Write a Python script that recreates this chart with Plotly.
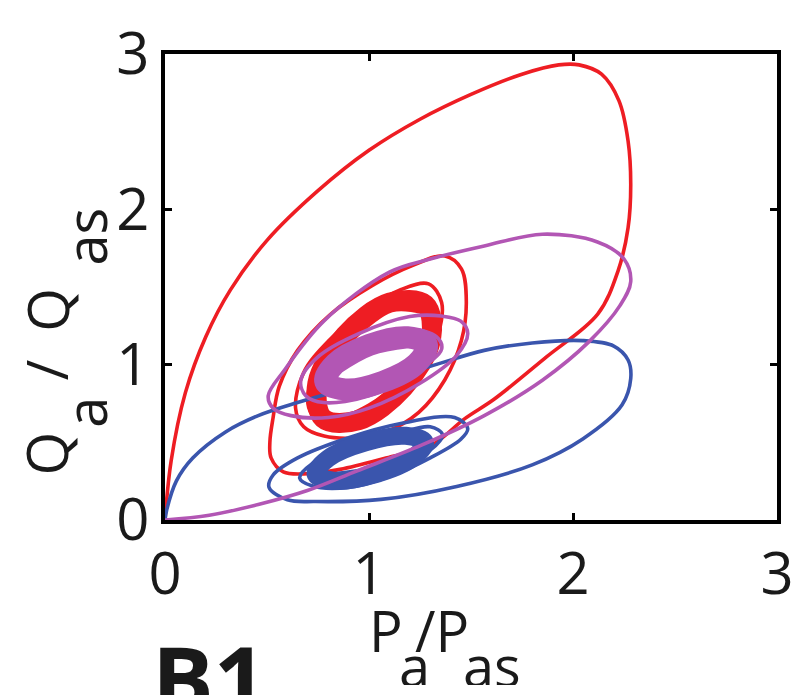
import plotly.graph_objects as go

# ---- data (P_a/P_as, Q_a/Q_as) ----
RED_X = [0.0, 0.03, 0.10, 0.20, 0.32, 0.50, 0.75, 1.0, 1.25, 1.50, 1.75, 1.93, 2.03,
         2.14, 2.225, 2.27, 2.283, 2.27, 2.221, 2.122, 1.87, 1.613, 1.468, 1.308, 1.083, 0.858,
         0.70, 0.58, 0.52, 0.514, 0.53, 0.56, 0.65, 0.81, 1.019, 1.212, 1.372, 1.453, 1.477, 1.453,
         1.372, 1.244, 1.083, 0.95, 0.78, 0.68, 0.64, 0.68, 0.80, 0.98, 1.15, 1.292, 1.356, 1.34,
         1.26, 1.12, 0.95, 0.80, 0.72, 0.70, 0.76, 0.90, 1.05, 1.212, 1.29, 1.26, 1.15, 1.0, 0.84,
         0.76, 0.75]
RED_Y = [0.0, 0.38, 0.82, 1.18, 1.48, 1.80, 2.12, 2.38, 2.58, 2.74, 2.87, 2.93, 2.93,
         2.87, 2.70, 2.44, 2.159, 1.882, 1.604, 1.327, 1.05, 0.777, 0.651, 0.483, 0.399, 0.326,
         0.298, 0.31, 0.40, 0.50, 0.66, 0.86, 1.092, 1.323, 1.512, 1.638, 1.70, 1.617, 1.407, 1.155,
         0.903, 0.693, 0.567, 0.53, 0.54, 0.60, 0.72, 0.95, 1.15, 1.35, 1.48, 1.52, 1.40, 1.20,
         0.98, 0.78, 0.65, 0.62, 0.68, 0.80, 1.0, 1.2, 1.35, 1.43, 1.30, 1.1, 0.9, 0.74, 0.66,
         0.72, 0.84]
RED_RING_X = [0.882, 1.101, 1.275, 1.304, 1.169, 0.950, 0.776, 0.747, 0.882, 1.101, 1.275]
RED_RING_Y = [1.188, 1.399, 1.388, 1.162, 0.853, 0.643, 0.653, 0.880, 1.188, 1.399, 1.388]

BLU_X = [0.0, 0.008, 0.056, 0.136, 0.297, 0.457, 0.65, 1.019, 1.30, 1.565, 1.80, 2.048, 2.20,
         2.27, 2.283, 2.24, 2.048, 1.80, 1.43, 1.059, 0.737, 0.60, 0.51, 0.53, 0.65, 0.90, 1.15,
         1.42, 1.484, 1.45, 1.30, 1.10, 0.90, 0.72, 0.66, 0.72, 0.90, 1.15, 1.30, 1.36, 1.30]
BLU_Y = [0.0, 0.063, 0.252, 0.399, 0.567, 0.672, 0.756, 0.89, 0.99, 1.092, 1.14, 1.155, 1.12,
         1.03, 0.91, 0.74, 0.522, 0.355, 0.216, 0.133, 0.119, 0.13, 0.21, 0.29, 0.40, 0.53, 0.62,
         0.66, 0.588, 0.52, 0.40, 0.28, 0.21, 0.22, 0.27, 0.36, 0.46, 0.56, 0.60, 0.55, 0.45]
BLU_RING_X = [1.212, 1.029, 0.833, 0.738, 0.800, 0.983, 1.180, 1.274, 1.212, 1.029, 0.833]
BLU_RING_Y = [0.397, 0.294, 0.252, 0.295, 0.397, 0.500, 0.542, 0.499, 0.397, 0.294, 0.252]

PUR_X = [0.0, 0.217, 0.457, 0.698, 0.939, 1.26, 1.565, 1.85, 2.08, 2.23, 2.283, 2.25, 2.12, 1.85,
         1.565, 1.30, 1.10, 0.778, 0.586, 0.506, 0.53, 0.618, 0.80, 1.00, 1.25, 1.43, 1.484, 1.45,
         1.356, 1.20, 0.95, 0.75, 0.666, 0.69, 0.778, 1.00, 1.22, 1.356, 1.33, 1.22]
PUR_Y = [0.0, 0.031, 0.10, 0.19, 0.315, 0.483, 0.672, 0.90, 1.15, 1.38, 1.535, 1.68, 1.79, 1.84,
         1.764, 1.68, 1.596, 1.28, 0.966, 0.80, 0.72, 0.672, 0.66, 0.72, 0.88, 1.06, 1.20, 1.28,
         1.313, 1.31, 1.20, 1.05, 0.90, 0.80, 0.756, 0.80, 0.95, 1.10, 1.18, 1.22]
PUR_RING_X = [1.188, 1.002, 0.836, 0.786, 0.882, 1.068, 1.234, 1.284, 1.188, 1.002, 0.836]
PUR_RING_Y = [1.176, 1.127, 1.008, 0.890, 0.841, 0.890, 1.008, 1.127, 1.176, 1.127, 1.008]

TICKS = [0, 1, 2, 3]
TICK_TEXT = ["0", "1", "2", "3"]

RED = "#EE1D23"
BLUE = "#3A55AD"
PURPLE = "#B256B4"

fig = go.Figure()

def add_traj(xs, ys, rx, ry, color, ring_w):
    fig.add_trace(go.Scatter(x=xs + rx[:1], y=ys + ry[:1], mode="lines",
                             line=dict(color=color, width=3.6, shape="spline", smoothing=1.0),
                             hoverinfo="skip", showlegend=False))
    fig.add_trace(go.Scatter(x=rx, y=ry, mode="lines",
                             line=dict(color=color, width=ring_w, shape="spline", smoothing=1.0),
                             hoverinfo="skip", showlegend=False))

add_traj(RED_X, RED_Y, RED_RING_X, RED_RING_Y, RED, 20)
add_traj(BLU_X, BLU_Y, BLU_RING_X, BLU_RING_Y, BLUE, 18)
add_traj(PUR_X, PUR_Y, PUR_RING_X, PUR_RING_Y, PURPLE, 22)

FONT = "Open Sans"
axis_common = dict(range=[0, 3], tickvals=TICKS, ticktext=TICK_TEXT, ticks="inside",
                   ticklen=7, tickwidth=3, tickcolor="black", showline=True, linewidth=4,
                   linecolor="black", mirror="ticks", showgrid=False, zeroline=False,
                   tickfont=dict(family=FONT, size=58, color="#1a1a1a"), fixedrange=True)

L, R, T, B = 165, 18, 44, 175
W, H = 806, 695
fig.update_layout(
    width=W, height=H, margin=dict(l=L, r=R, t=T, b=B),
    paper_bgcolor="white", plot_bgcolor="white",
    xaxis=axis_common, yaxis=axis_common,
)

pw, ph = W - L - R, H - T - B

def px(xp):
    return (xp - L) / pw

def py(yp):
    return (H - B - yp) / ph

def txt(s, xp, yp, size=56, angle=0, bold=False, h=None):
    kw = {}
    if h is not None:
        kw["height"] = h
    fig.add_annotation(text=("<b>%s</b>" % s) if bold else s, x=px(xp), y=py(yp),
                       xref="paper", yref="paper", showarrow=False, textangle=angle,
                       xanchor="center", yanchor="middle",
                       font=dict(family=FONT, size=size, color="#1a1a1a"), **kw)

# x-axis title pieces
txt("P", 390, 632)
txt("a", 419, 668, h=40)
txt("/P", 447, 632)
txt("as", 498, 668, h=40)
# y-axis title pieces (rotated)
txt("Q", 44, 452, angle=-90)
txt("a", 84, 410, angle=-90)
txt("/", 44, 367, angle=-90)
txt("Q", 44, 305, angle=-90)
txt("as", 84, 230, angle=-90)
# panel label (cut by the lower edge, as in the original)
txt("B1", 210, 680, size=92, bold=True, h=60)

fig.write_html("out.html")
